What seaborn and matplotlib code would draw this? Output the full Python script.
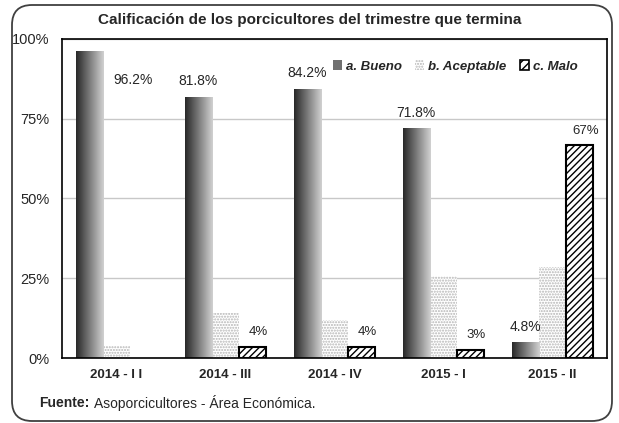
import numpy as np
import pandas as pd
import matplotlib
matplotlib.use("Agg")
import matplotlib.pyplot as plt
import seaborn as sns
from matplotlib.patches import FancyBboxPatch, Patch
from matplotlib.transforms import IdentityTransform

# ---- data ----
periods = ["2014 - I I", "2014 - III", "2014 - IV", "2015 - I", "2015 - II"]
categories = ["a. Bueno", "b. Aceptable", "c. Malo"]
bueno = [96.2, 81.8, 84.2, 71.8, 4.8]
aceptable = [3.8, 14.1, 12.0, 25.6, 28.5]
malo = [0.0, 3.6, 3.6, 2.6, 66.8]
bueno_labels = ["96.2%", "81.8%", "84.2%", "71.8%", "4.8%"]
malo_labels = ["", "4%", "4%", "3%", "67%"]
yticks = [0, 25, 50, 75, 100]
ytick_labels = ["0%", "25%", "50%", "75%", "100%"]
title = "Calificación de los porcicultores del trimestre que termina"

sns.set_theme(style="white")
plt.rcParams["font.family"] = ["Liberation Sans", "DejaVu Sans"]
plt.rcParams["hatch.linewidth"] = 1.0

df = pd.DataFrame({
    "periodo": periods * 3,
    "cat": [categories[0]] * 5 + [categories[1]] * 5 + [categories[2]] * 5,
    "valor": bueno + aceptable + malo,
})

fig = plt.figure(figsize=(6.19, 4.23), dpi=100)
ax = fig.add_axes([62 / 619, 1 - 358 / 423, (607 - 62) / 619, (358 - 39) / 423])

sns.barplot(data=df, x="periodo", y="valor", hue="cat", order=periods,
            hue_order=categories, width=0.75, gap=0, ax=ax, legend=False,
            palette=["#808080", "#ffffff", "#ffffff"], saturation=1)

cont_b, cont_a, cont_m = ax.containers

grad = np.linspace(0.16, 0.82, 64).reshape(1, -1)
for p in cont_b:
    x0, w, h = p.get_x(), p.get_width(), p.get_height()
    p.set_facecolor("none")
    p.set_edgecolor("none")
    ax.imshow(grad, cmap="gray", vmin=0, vmax=1, aspect="auto",
              extent=[x0, x0 + w, 0, h], zorder=2, interpolation="bicubic")

for p in cont_a:
    p.set_facecolor("white")
    p.set_edgecolor("#b5b5b5")
    p.set_linewidth(0)
    p.set_hatch("......")
    p.set_zorder(2)

for p in cont_m:
    p.set_facecolor("white")
    p.set_edgecolor("black")
    p.set_linewidth(1.5)
    p.set_hatch("/////")
    p.set_zorder(2)
    if p.get_height() <= 0:
        p.set_visible(False)

# value labels
for p, lab in zip(cont_b, bueno_labels):
    cx = p.get_x() + p.get_width() / 2
    h = p.get_height()
    if h > 90:
        ax.text(cx + 0.40, h - 9, lab, ha="center", va="center", fontsize=10)
    else:
        ax.text(cx, h + 5, lab, ha="center", va="center", fontsize=10)

for p, lab in zip(cont_m, malo_labels):
    if not lab:
        continue
    cx = p.get_x() + p.get_width() / 2
    h = p.get_height()
    ax.text(cx + 0.05, h + 4.5, lab, ha="center", va="center", fontsize=9.5)

ax.set_xlim(-0.5, len(periods) - 0.5)
ax.set_ylim(0, 100)
ax.set_yticks(yticks)
ax.set_yticklabels(ytick_labels, fontsize=10.5)
ax.set_xticks(range(len(periods)))
ax.set_xticklabels(periods, fontsize=9.5, fontweight="bold")
ax.set_xticks(np.arange(len(periods) + 1) - 0.5, minor=True)
ax.tick_params(axis="x", which="major", length=0, pad=8)
ax.tick_params(axis="x", which="minor", length=4, width=1, color="black", direction="out")
ax.tick_params(axis="y", which="major", length=4, width=1, color="black", direction="out", pad=5)
ax.set_xlabel("")
ax.set_ylabel("")
ax.yaxis.grid(True, color="#c8c8c8", linewidth=1)
ax.xaxis.grid(False)
ax.set_axisbelow(True)
for s in ax.spines.values():
    s.set_color("black")
    s.set_linewidth(1.2)

handles = [Patch(facecolor="#707070", edgecolor="none"),
           Patch(facecolor="white", edgecolor="#b5b5b5", hatch="......", linewidth=0),
           Patch(facecolor="white", edgecolor="black", hatch="////", linewidth=1.2)]
ax.legend(handles, categories, loc="upper right", bbox_to_anchor=(0.968, 0.97), ncol=3,
          frameon=False, prop={"weight": "bold", "style": "italic", "size": 9.5},
          handlelength=0.7, handleheight=0.7, handletextpad=0.3, columnspacing=1.0)

fig.text(0.5, 1 - 20 / 423, title, ha="center", va="center", fontsize=11, fontweight="bold")
fig.text(39 / 619, 1 - 403 / 423, "Fuente:", ha="left", va="center", fontsize=10, fontweight="bold")
fig.text(94 / 619, 1 - 403 / 423, "Asoporcicultores - Área Económica.", ha="left", va="center", fontsize=10)

frame = FancyBboxPatch((12, 423 - 421), 600, 416, boxstyle="round,pad=0,rounding_size=20",
                       transform=IdentityTransform(), facecolor="none", edgecolor="#404040",
                       linewidth=1.3)
fig.patches.append(frame)

fig.savefig("out.png", dpi=100)
